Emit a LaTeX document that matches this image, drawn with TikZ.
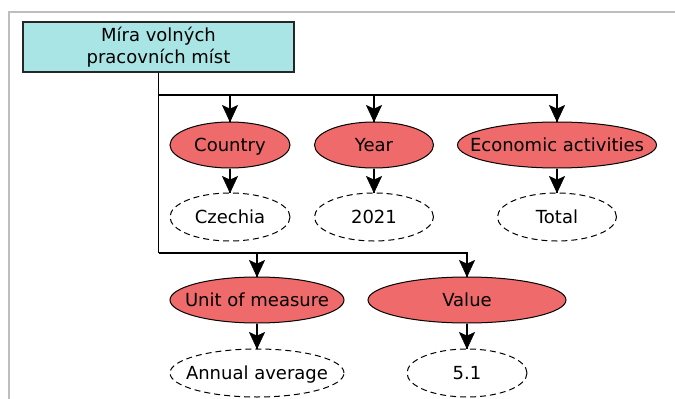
\documentclass[tikz,border=0pt]{standalone}
\usepackage{fontspec}
\setmainfont{DejaVu Sans}
\usetikzlibrary{shapes.geometric}

\definecolor{titlefill}{RGB}{170,229,229}
\definecolor{dimfill}{RGB}{239,106,106}
\definecolor{framegray}{RGB}{190,190,190}

% zero-width label so the ellipse size comes from minimum width/height only
\newcommand{\zw}[1]{\makebox[0pt][c]{#1}}

\tikzset{
  base/.style={font=\fontsize{18}{22}\selectfont, inner sep=0pt, align=center},
  titlebox/.style={base, rectangle, draw=black!85, line width=1.2pt, fill=titlefill,
    minimum width=271pt, minimum height=50pt},
  oval/.style={base, ellipse, draw=black, line width=1pt, text height=13pt, text depth=0pt},
  dimnode/.style={oval, fill=dimfill, minimum height=46pt},
  valnode/.style={oval, dash pattern=on 6pt off 4pt, minimum height=48pt},
  link/.style={line width=1.2pt, draw=black},
  % notched arrowhead drawn as a filled shape at the end of each link
  headshape/.style={fill=black, draw=black, line width=0.6pt, line join=miter},
}

% arrowhead pointing down with its tip at the given node anchor
\newcommand{\headat}[1]{%
  \filldraw[headshape] (#1) -- ++(-7.5,-16) -- ++(7.5,3.5) -- ++(7.5,-3.5) -- cycle;}

\begin{document}
\begin{tikzpicture}[x=1pt,y=-1pt]
  \useasboundingbox (0,0) rectangle (675,399);

  % outer frame
  \draw[framegray, line width=1.3pt] (9,399) -- (9,12) -- (675,12);

  % root
  \node[titlebox] (root) at (158.5,47) {Míra volných\\pracovních míst};

  % dimensions and their values
  \node[dimnode, minimum width=120pt] (country) at (230,145) {\zw{Country}};
  \node[dimnode, minimum width=119pt] (year)    at (374,145) {\zw{Year}};
  \node[dimnode, minimum width=199pt] (econ)    at (557,145) {\zw{Economic activities}};

  \node[valnode, minimum width=120pt] (czechia) at (230,217) {\zw{Czechia}};
  \node[valnode, minimum width=119pt] (y2021)   at (374,217) {\zw{2021}};
  \node[valnode, minimum width=119pt] (total)   at (557,217) {\zw{Total}};

  \node[dimnode, minimum width=174pt] (unit)  at (257,300) {\zw{Unit of measure}};
  \node[dimnode, minimum width=198pt] (value) at (467,300) {\zw{Value}};

  \node[valnode, minimum width=174pt] (annual) at (257,373) {\zw{Annual average}};
  \node[valnode, minimum width=120pt] (v51)    at (467,373) {\zw{5.1}};

  % branch points on the trunk
  \coordinate (j1) at (158.5,95);
  \coordinate (j2) at (158.5,253);

  % trunk and branches
  \draw[link] (root.south) -- (j2);
  \draw[link] (j1) -| (econ.north);
  \draw[link] (country.north |- j1) -- (country.north);
  \draw[link] (year.north |- j1) -- (year.north);
  \draw[link] (j2) -| (value.north);
  \draw[link] (unit.north |- j2) -- (unit.north);

  % dimension to value
  \draw[link] (country.south) -- (czechia.north);
  \draw[link] (year.south) -- (y2021.north);
  \draw[link] (econ.south) -- (total.north);
  \draw[link] (unit.south) -- (annual.north);
  \draw[link] (value.south) -- (v51.north);

  % arrowheads
  \foreach \n in {country,year,econ,czechia,y2021,total,unit,value,annual,v51}
    {\headat{\n.north}}
\end{tikzpicture}
\end{document}
